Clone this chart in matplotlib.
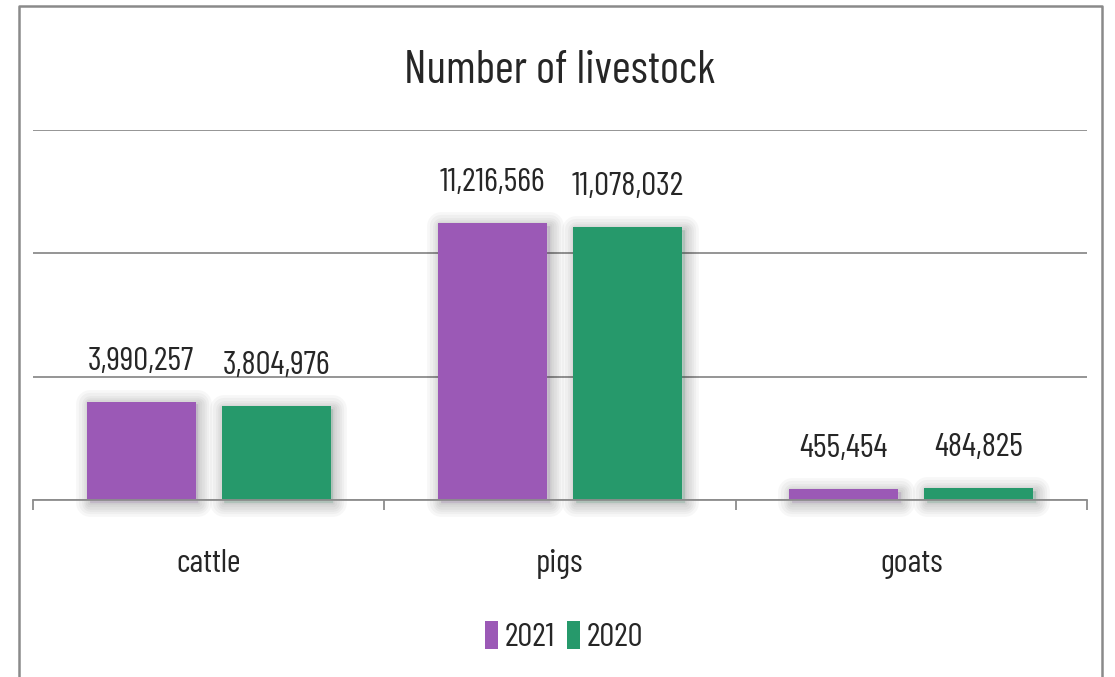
import numpy as np
import matplotlib
matplotlib.use("Agg")
import matplotlib.pyplot as plt
import matplotlib.patheffects as pe
from matplotlib.patches import Patch
from matplotlib.lines import Line2D


CATEGORIES = ["cattle", "pigs", "goats"]
YEARS = ["2021", "2020"]
VALUES_2021 = [3990257, 11216566, 455454]
VALUES_2020 = [3804976, 11078032, 484825]

COLORS = ["#9b59b6", "#26996b"]
GRID_COLOR = "#8c8c8c"
TEXT_COLOR = "#262626"

plt.rcParams["font.family"] = ["Barlow Condensed", "DejaVu Sans"]


def shadow_effects():
    effects = []
    for w in (20, 16, 12, 9, 6, 3):
        effects.append(pe.Stroke(linewidth=w, foreground="black", alpha=0.03,
                                 offset=(2, -2), joinstyle="round"))
    effects.append(pe.Normal())
    return effects


def main():
    fig = plt.figure(figsize=(11.15, 6.77), dpi=100)
    ax = fig.add_axes([33 / 1115, 1 - 500 / 677, (1087 - 33) / 1115, (500 - 130) / 677])

    x = np.arange(len(CATEGORIES))
    width = 0.31
    offset = 0.192

    for i, (vals, color) in enumerate(zip([VALUES_2021, VALUES_2020], COLORS)):
        pos = x + (offset if i else -offset)
        bars = ax.bar(pos, vals, width=width, color=color, zorder=3, clip_on=False)
        for bar, v in zip(bars, vals):
            bar.set_path_effects(shadow_effects())
            ax.annotate(f"{v:,}", (bar.get_x() + bar.get_width() / 2, v),
                        xytext=(0, 18), textcoords="offset points",
                        ha="center", va="bottom", fontsize=24, color=TEXT_COLOR)

    ax.set_xlim(-0.5, len(CATEGORIES) - 0.5)
    ax.set_ylim(0, 15000000)
    ax.set_yticks([0, 5000000, 10000000, 15000000])
    ax.yaxis.grid(True, color=GRID_COLOR, linewidth=1.3, zorder=1)
    ax.tick_params(axis="y", left=False, labelleft=False)

    for side in ("top", "right", "left"):
        ax.spines[side].set_visible(False)
    ax.spines["bottom"].set_color(GRID_COLOR)
    ax.spines["bottom"].set_linewidth(1.3)
    ax.spines["bottom"].set_zorder(4)

    ax.set_xticks(x)
    ax.set_xticklabels(CATEGORIES, fontsize=24, color=TEXT_COLOR)
    ax.tick_params(axis="x", which="major", length=0, pad=35)
    ax.set_xticks(np.arange(-0.5, len(CATEGORIES)), minor=True)
    ax.tick_params(axis="x", which="minor", length=7, width=1.3, color=GRID_COLOR, direction="out")

    fig.text(560 / 1115, 1 - 71 / 677, "Number of livestock", ha="center", va="center",
             fontsize=33, color=TEXT_COLOR)

    handles = [Patch(facecolor=c, edgecolor="none") for c in COLORS]
    fig.legend(handles, YEARS, loc="center", bbox_to_anchor=(564 / 1115, 1 - 637 / 677),
               ncol=2, frameon=False, fontsize=24, handlelength=0.4, handleheight=0.9,
               handletextpad=0.2, columnspacing=0.35, labelcolor=TEXT_COLOR)

    # outer frame: left, top and right only
    fx0, fx1 = 19 / 1115, 1102 / 1115
    fy1 = 1 - 6 / 677
    frame = Line2D([fx0, fx0, fx1, fx1], [0, fy1, fy1, 0], transform=fig.transFigure,
                   color="#8a8a8a", linewidth=1.8)
    fig.add_artist(frame)

    fig.savefig("out.png", dpi=100, facecolor="white")
    plt.close(fig)


if __name__ == "__main__":
    main()
